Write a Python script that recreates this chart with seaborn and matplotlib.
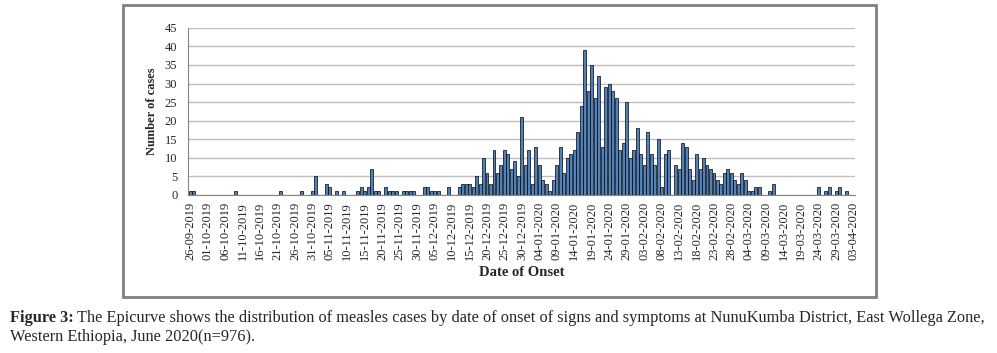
import pandas as pd
import seaborn as sns
import matplotlib.pyplot as plt
from matplotlib.patches import Rectangle

# Epicurve data: days with at least one case (dd-mm-yyyy) and the number of cases
onset_dates = [
    '26-09-2019', '27-09-2019', '09-10-2019', '22-10-2019', '28-10-2019', '31-10-2019',
    '01-11-2019', '04-11-2019', '05-11-2019', '07-11-2019', '09-11-2019', '13-11-2019',
    '14-11-2019', '15-11-2019', '16-11-2019', '17-11-2019', '18-11-2019', '19-11-2019',
    '21-11-2019', '22-11-2019', '23-11-2019', '24-11-2019', '26-11-2019', '27-11-2019',
    '28-11-2019', '29-11-2019',
    '02-12-2019', '03-12-2019', '04-12-2019', '05-12-2019', '06-12-2019', '09-12-2019',
    '12-12-2019', '13-12-2019', '14-12-2019', '15-12-2019', '16-12-2019', '17-12-2019',
    '18-12-2019', '19-12-2019', '20-12-2019', '21-12-2019', '22-12-2019', '23-12-2019',
    '24-12-2019', '25-12-2019', '26-12-2019', '27-12-2019', '28-12-2019', '29-12-2019',
    '30-12-2019', '31-12-2019',
    '01-01-2020', '02-01-2020', '03-01-2020', '04-01-2020', '05-01-2020', '06-01-2020',
    '07-01-2020', '08-01-2020', '09-01-2020', '10-01-2020', '11-01-2020', '12-01-2020',
    '13-01-2020', '14-01-2020', '15-01-2020', '16-01-2020', '17-01-2020', '18-01-2020',
    '19-01-2020', '20-01-2020', '21-01-2020', '22-01-2020', '23-01-2020', '24-01-2020',
    '25-01-2020', '26-01-2020', '27-01-2020', '28-01-2020', '29-01-2020', '30-01-2020',
    '31-01-2020',
    '01-02-2020', '02-02-2020', '03-02-2020', '04-02-2020', '05-02-2020', '06-02-2020',
    '07-02-2020', '08-02-2020', '09-02-2020', '10-02-2020', '12-02-2020', '13-02-2020',
    '14-02-2020', '15-02-2020', '16-02-2020', '17-02-2020', '18-02-2020', '19-02-2020',
    '20-02-2020', '21-02-2020', '22-02-2020', '23-02-2020', '24-02-2020', '25-02-2020',
    '26-02-2020', '27-02-2020', '28-02-2020', '29-02-2020',
    '01-03-2020', '02-03-2020', '03-03-2020', '04-03-2020', '05-03-2020', '06-03-2020',
    '07-03-2020', '10-03-2020', '11-03-2020', '24-03-2020', '26-03-2020', '27-03-2020',
    '29-03-2020', '30-03-2020', '01-04-2020',
]
case_counts = [
    1, 1, 1, 1, 1, 1,
    5, 3, 2, 1, 1, 1,
    2, 1, 2, 7, 1, 1,
    2, 1, 1, 1, 1, 1,
    1, 1,
    2, 2, 1, 1, 1, 2,
    2, 3, 3, 3, 2, 5,
    3, 10, 6, 3, 12, 6,
    8, 12, 11, 7, 9, 5,
    21, 8,
    12, 3, 13, 8, 4, 3,
    1, 4, 8, 13, 6, 10,
    11, 12, 17, 24, 39, 28,
    35, 26, 32, 13, 29, 30,
    28, 26, 12, 14, 25, 10,
    12,
    18, 11, 8, 17, 11, 8,
    15, 2, 11, 12, 8, 7,
    14, 13, 7, 4, 11, 7,
    10, 8, 7, 6, 4, 3,
    6, 7, 6, 4,
    3, 6, 4, 1, 1, 2,
    2, 1, 3, 2, 1, 2,
    1, 2, 1,
]
first_day = '26-09-2019'
last_day = '03-04-2020'
y_ticks = [0, 5, 10, 15, 20, 25, 30, 35, 40, 45]

# daily series over the whole period, days without cases get 0
cases = pd.Series(case_counts, index=pd.to_datetime(onset_dates, format='%d-%m-%Y'))
days = pd.date_range(pd.to_datetime(first_day, format='%d-%m-%Y'),
                     pd.to_datetime(last_day, format='%d-%m-%Y'), freq='D')
df = pd.DataFrame({'date': days, 'cases': cases.reindex(days, fill_value=0).values})
df['label'] = df['date'].dt.strftime('%d-%m-%Y')

sns.set_style('white')
plt.rcParams['font.family'] = ['Liberation Serif', 'DejaVu Serif']

fig = plt.figure(figsize=(9.97, 3.53), dpi=100)
ax = fig.add_axes([0.189, 0.448, 0.669, 0.473])

sns.barplot(data=df, x='label', y='cases', color='#4F81BD', saturation=1,
            edgecolor='black', linewidth=0.5, width=0.85, ax=ax)

ax.set_xlim(-0.5, len(df) - 0.5)
ax.set_ylim(0, 45)
ax.set_yticks(y_ticks)
ax.set_yticklabels([str(t) for t in y_ticks], fontsize=9)
tick_pos = list(range(0, len(df), 5))
ax.set_xticks(tick_pos)
ax.set_xticklabels(df['label'].iloc[tick_pos], rotation=90, fontsize=9)
ax.yaxis.grid(True, color='#bfbfbf', linewidth=1)
ax.set_axisbelow(True)
for side in ['top', 'right']:
    ax.spines[side].set_visible(False)
for side in ['left', 'bottom']:
    ax.spines[side].set_color('#868686')
ax.tick_params(axis='x', direction='out', length=3, color='#868686', pad=2)
ax.tick_params(axis='y', direction='out', length=5, color='#bfbfbf', pad=3)
ax.set_xlabel('Date of Onset', fontsize=10.5, fontweight='bold', labelpad=4)
ax.set_ylabel('Number of cases', fontsize=9, fontweight='bold', labelpad=5)

# chart frame
fig.patches.append(Rectangle((123 / 997, 1 - 297 / 353), (876 - 123) / 997, (297 - 5) / 353,
                             transform=fig.transFigure, fill=False,
                             edgecolor='#808080', linewidth=2))

# caption below the chart, sized so the first line fills the width
renderer = fig.canvas.get_renderer()
cap_size = 10
line1 = ('The Epicurve shows the distribution of measles cases by date of onset of signs and '
         'symptoms at NunuKumba District, East Wollega Zone,')
bold = fig.text(0, 0, 'Figure 3:', fontsize=cap_size, fontweight='bold')
rest = fig.text(0, 0, line1, fontsize=cap_size)
total = (bold.get_window_extent(renderer).width + 3
         + rest.get_window_extent(renderer).width)
bold.remove()
rest.remove()
cap_size = cap_size * (978 / total)

bold = fig.text(10 / 997, 1 - 322 / 353, 'Figure 3:', fontsize=cap_size,
                fontweight='bold', va='baseline')
bw = bold.get_window_extent(renderer).width
fig.text((10 + bw + 3) / 997, 1 - 322 / 353, line1, fontsize=cap_size, va='baseline')
fig.text(10 / 997, 1 - 341 / 353, 'Western Ethiopia, June 2020(n=976).',
         fontsize=cap_size, va='baseline')

fig.savefig('out.png', dpi=100)
